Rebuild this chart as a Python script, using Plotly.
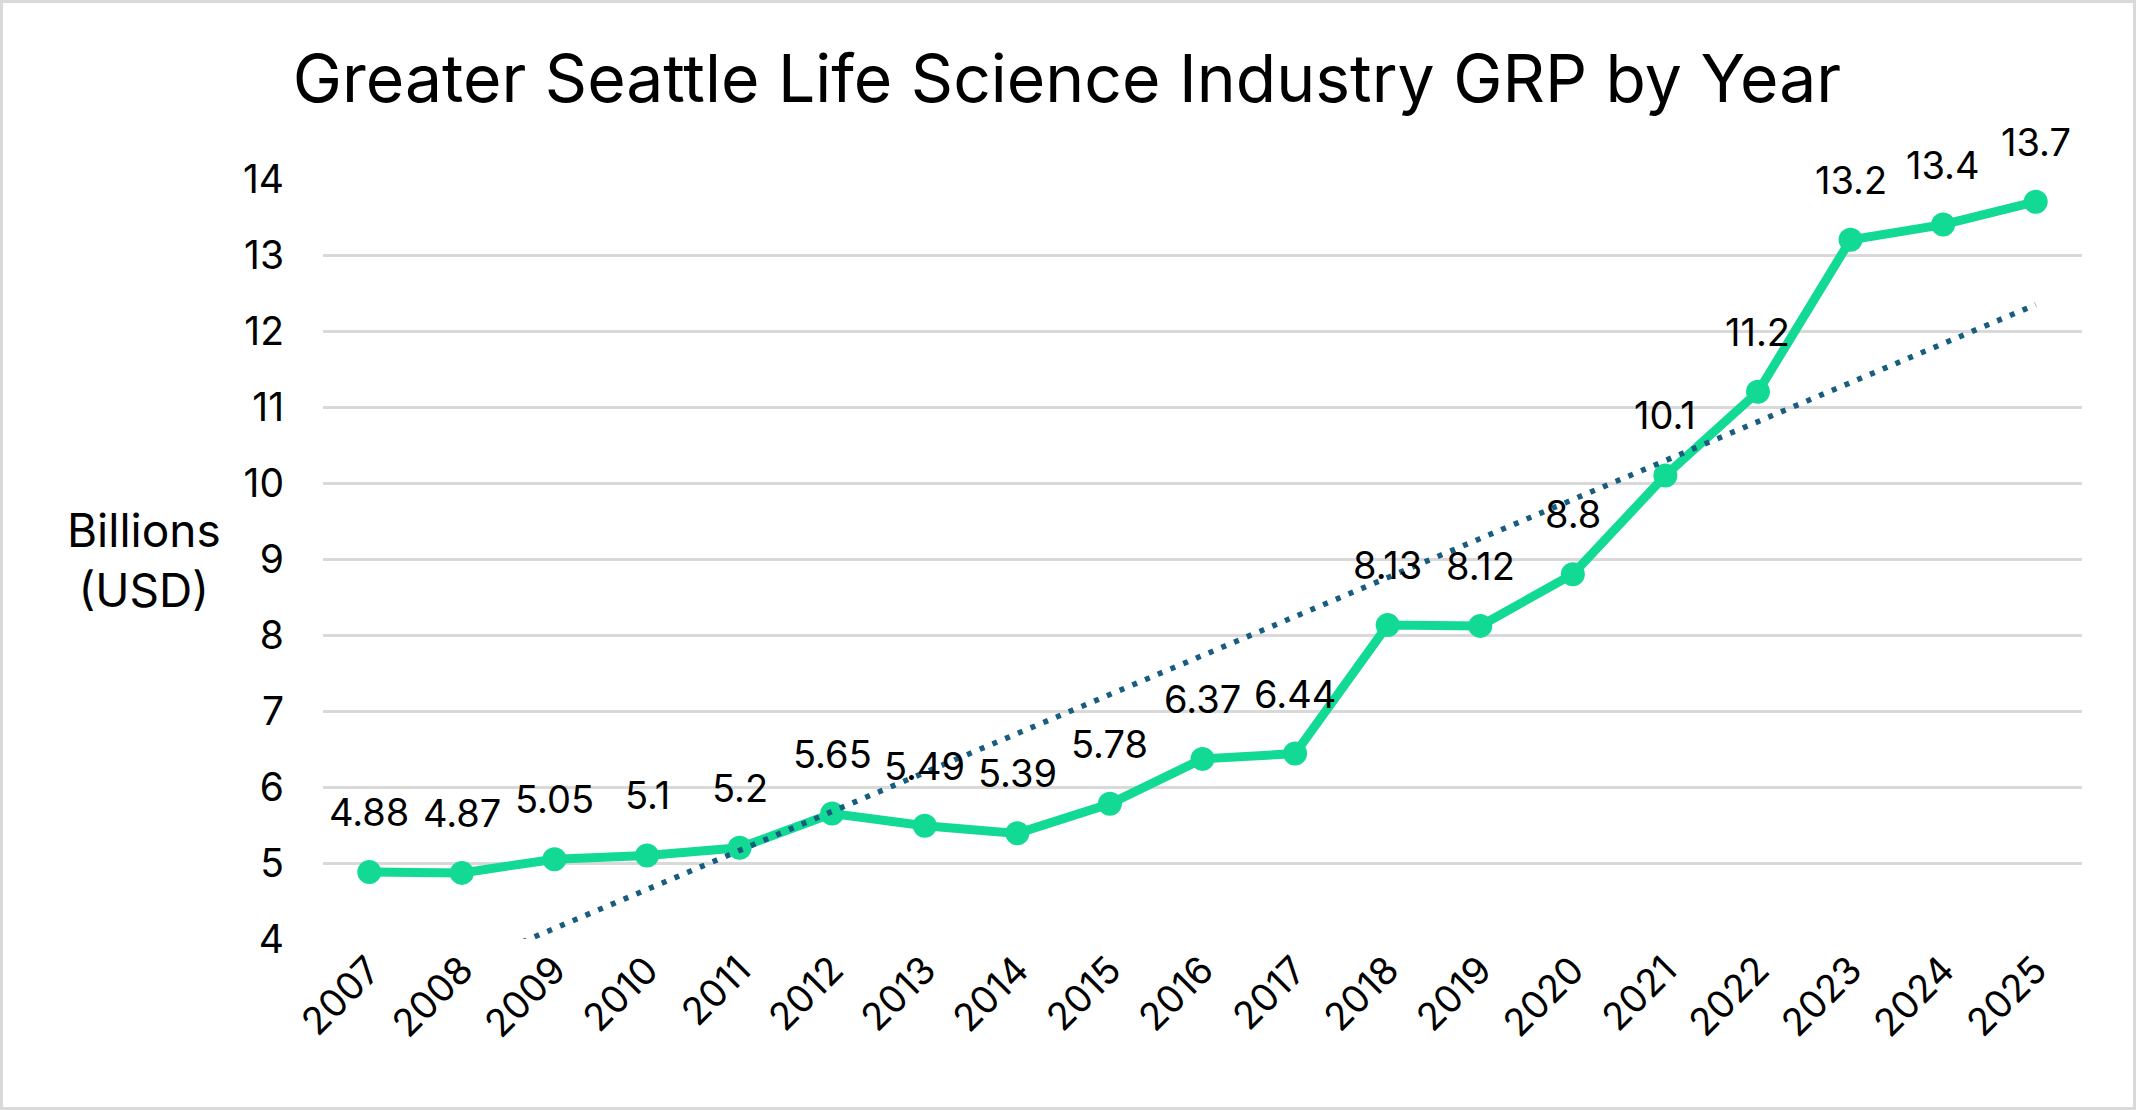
import numpy as np
import plotly.graph_objects as go

years = ["2007", "2008", "2009", "2010", "2011", "2012", "2013", "2014", "2015",
         "2016", "2017", "2018", "2019", "2020", "2021", "2022", "2023", "2024", "2025"]
grp = [4.88, 4.87, 5.05, 5.1, 5.2, 5.65, 5.49, 5.39, 5.78,
       6.37, 6.44, 8.13, 8.12, 8.8, 10.1, 11.2, 13.2, 13.4, 13.7]
y_ticks = [4, 5, 6, 7, 8, 9, 10, 11, 12, 13, 14]

W, H = 2136, 1110
L, R, T, B = 323, 54, 179, 171
FONT = "Inter"
GREEN = "#12DA94"
TREND = "#185D80"

# linear trendline (least squares over category index)
idx = np.arange(len(grp))
slope, intercept = np.polyfit(idx, grp, 1)
trend = slope * idx + intercept

fig = go.Figure()
fig.add_trace(go.Scatter(
    x=years, y=grp, mode="lines+markers",
    line=dict(color=GREEN, width=9),
    marker=dict(color=GREEN, size=24),
    cliponaxis=False, hoverinfo="skip", showlegend=False,
))
fig.add_trace(go.Scatter(
    x=years, y=trend, mode="lines",
    line=dict(color=TREND, width=5.5, dash="5px,8.8px"),
    hoverinfo="skip", showlegend=False,
))

for i, v in enumerate(grp):
    fig.add_annotation(x=i, y=v, text=f"{v:g}", showarrow=False,
                       yshift=60, font=dict(family=FONT, size=38, color="#000000"))

# y-axis title as horizontal text
fig.add_annotation(xref="paper", yref="paper",
                   x=(144 - L) / (W - L - R), y=(H - B - 560) / (H - T - B),
                   text="Billions<br>(USD)", showarrow=False,
                   xanchor="center", yanchor="middle", align="center",
                   font=dict(family=FONT, size=46, color="#000000"))

# outer border
pw, ph = W - L - R, H - T - B
fig.add_shape(type="rect", xref="paper", yref="paper",
              x0=(1.5 - L) / pw, x1=(W - 1.5 - L) / pw,
              y0=(H - B - (H - 1.5)) / ph, y1=(H - B - 1.5) / ph,
              line=dict(color="#D9D9D9", width=3), fillcolor="rgba(0,0,0,0)", layer="below")

fig.update_layout(
    width=W, height=H,
    margin=dict(l=L, r=R, t=T, b=B),
    paper_bgcolor="white", plot_bgcolor="white",
    title=dict(text="Greater Seattle Life Science Industry GRP by Year",
               x=1067 / W, xanchor="center", y=1 - 79 / H, yanchor="middle",
               font=dict(family=FONT, size=66, color="#000000")),
    font=dict(family=FONT, color="#000000"),
)
fig.update_xaxes(type="category", range=[-0.5, len(years) - 0.5],
                 showgrid=False, showline=False, zeroline=False,
                 tickangle=-45, tickfont=dict(family=FONT, size=38, color="#000000"),
                 ticks="", ticklen=0)
fig.update_yaxes(range=[4, 14], tickvals=y_ticks, showgrid=True,
                 gridcolor="#D9D9D9", gridwidth=2.7, zeroline=False, showline=False,
                 tickfont=dict(family=FONT, size=39, color="#000000"),
                 ticklabelstandoff=38)

fig.write_html("out.html")
